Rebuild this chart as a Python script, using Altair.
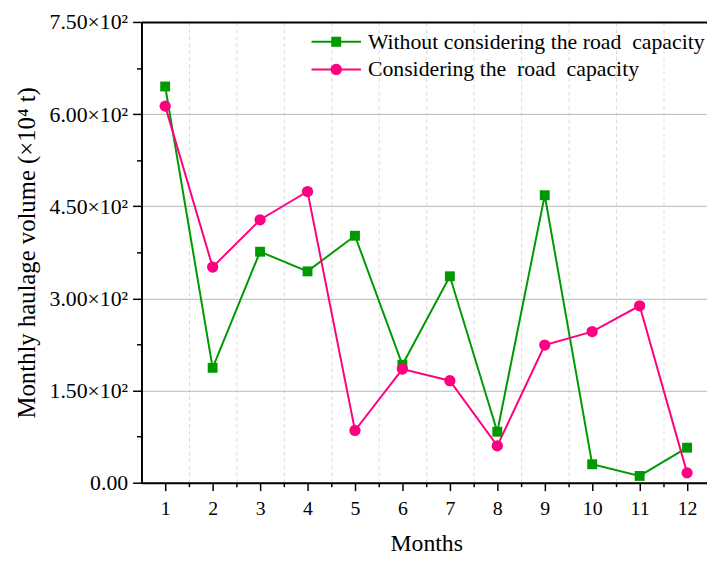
import math
import altair as alt
import pandas as pd

# ---- data ----
months = list(range(1, 13))
without_road = [645, 187, 376, 344, 402, 192, 336, 83, 468, 30, 11, 57]
with_road = [613, 351, 428, 474, 85, 185, 166, 60, 224, 246, 288, 16]
series_names = ["Without considering the road\u00a0 capacity", "Considering the\u00a0 road\u00a0 capacity"]
series_colors = ["#009900", "#FF0080"]
y_ticks = [0, 150, 300, 450, 600, 750]
y_minor = [75, 225, 375, 525, 675]
x_minor = [1.5, 2.5, 3.5, 4.5, 5.5, 6.5, 7.5, 8.5, 9.5, 10.5, 11.5]

rows = []
for m, a, b in zip(months, without_road, with_road):
    rows.append({"month": m, "value": a, "series": series_names[0]})
    rows.append({"month": m, "value": b, "series": series_names[1]})
df = pd.DataFrame(rows)

FONT = "Liberation Serif"


# legend symbols: a line with a marker in the middle (path units = 5 px)
def square_path():
    p = "M-5,0H5"
    for h in (0.8, 0.4, 0.1):
        p += f"M{-h},{-h}H{h}V{h}H{-h}Z"
    return p


def circle_path():
    p = "M-5,0H5"
    for r in (0.95, 0.55, 0.15):
        pts = [(r * math.cos(2 * math.pi * k / 24), r * math.sin(2 * math.pi * k / 24)) for k in range(24)]
        p += "M" + "L".join(f"{x:.3f},{y:.3f}" for x, y in pts) + "Z"
    return p


legend_shapes = [square_path(), circle_path()]

xscale = alt.Scale(domain=[0.5, 12.42], nice=False, zero=False)
yscale = alt.Scale(domain=[0, 750], nice=False, zero=True)
cscale = alt.Scale(domain=series_names, range=series_colors)
sscale = alt.Scale(domain=series_names, range=legend_shapes)

base = alt.Chart(df)

x_major = alt.Axis(
    orient="bottom", values=months, format="d", title="Months",
    labelFont=FONT, labelFontSize=20, labelColor="black", labelPadding=8,
    tickSize=8, tickWidth=1.5, tickColor="black",
    domainColor="black", domainWidth=2, grid=False,
    titleFont=FONT, titleFontSize=24, titleFontWeight="normal", titleColor="black",
    titleX=288, titleY=62, titleAlign="center", titleBaseline="middle",
)
y_major = alt.Axis(
    orient="left", values=y_ticks,
    labelExpr="datum.value == 0 ? '0.00' : format(datum.value / 100, '.2f') + '×10²'",
    labelFont=FONT, labelFontSize=22, labelColor="black", labelPadding=5,
    tickSize=9, tickWidth=1.5, tickColor="black",
    domainColor="black", domainWidth=2,
    grid=True, gridColor="#b8b8b8", gridWidth=1,
    title="Monthly haulage volume (×10⁴ t)",
    titleFont=FONT, titleFontSize=25, titleFontWeight="normal", titleColor="black",
    titleAngle=270, titleX=-116, titleY=233, titleAlign="center", titleBaseline="middle",
)
x_minor_axis = alt.Axis(
    orient="bottom", values=x_minor, labels=False, title=None, domain=False,
    tickSize=4, tickWidth=1.5, tickColor="black",
    grid=True, gridColor="#dcdcdc", gridWidth=1, gridDash=[4, 3],
)
y_minor_axis = alt.Axis(
    orient="left", values=y_minor, labels=False, title=None, domain=False,
    tickSize=5, tickWidth=1.5, tickColor="black", grid=False,
)
x_top_axis = alt.Axis(
    orient="top", values=[], labels=False, ticks=False, title=None, grid=False,
    domainColor="black", domainWidth=2,
)

legend_spec = alt.Legend(
    title=None, orient="none", legendX=186, legendY=9,
    labelFont=FONT, labelFontSize=22, labelColor="black", labelLimit=0,
    labelOffset=21, symbolSize=100, symbolStrokeWidth=2,
    rowPadding=6, padding=0,
)

# legend-only layer (draws no marks; listed first so its legend settings win)
legend_layer = base.transform_filter(alt.datum.month > 100).mark_point(
    filled=False, strokeWidth=2, opacity=1
).encode(
    color=alt.Color("series:N", scale=cscale, legend=legend_spec),
    shape=alt.Shape("series:N", scale=sscale, legend=legend_spec),
)

lines = base.mark_line(strokeWidth=2).encode(
    x=alt.X("month:Q", scale=xscale, axis=x_major),
    y=alt.Y("value:Q", scale=yscale, axis=y_major),
    color=alt.Color("series:N", scale=cscale, legend=None),
    detail="series:N",
)

squares = base.transform_filter(alt.datum.series == series_names[0]).mark_point(
    shape="square", filled=True, size=100, opacity=1
).encode(
    x=alt.X("month:Q", scale=xscale, axis=x_minor_axis),
    y=alt.Y("value:Q", scale=yscale, axis=y_minor_axis),
    color=alt.Color("series:N", scale=cscale, legend=None),
)

circles = base.transform_filter(alt.datum.series == series_names[1]).mark_point(
    shape="circle", filled=True, size=130, opacity=1
).encode(
    x=alt.X("month:Q", scale=xscale, axis=x_top_axis),
    y=alt.Y("value:Q", scale=yscale, axis=None),
    color=alt.Color("series:N", scale=cscale, legend=None),
)

chart = alt.layer(legend_layer, lines, squares, circles).resolve_axis(
    x="independent", y="independent"
).properties(
    width=572, height=466,
    autosize=alt.AutoSizeParams(type="none"),
    padding={"left": 135, "top": 11, "right": 0, "bottom": 70},
    background="white",
).configure_view(stroke=None)

chart.save("out.html", embed_options={"renderer": "svg", "actions": False})
